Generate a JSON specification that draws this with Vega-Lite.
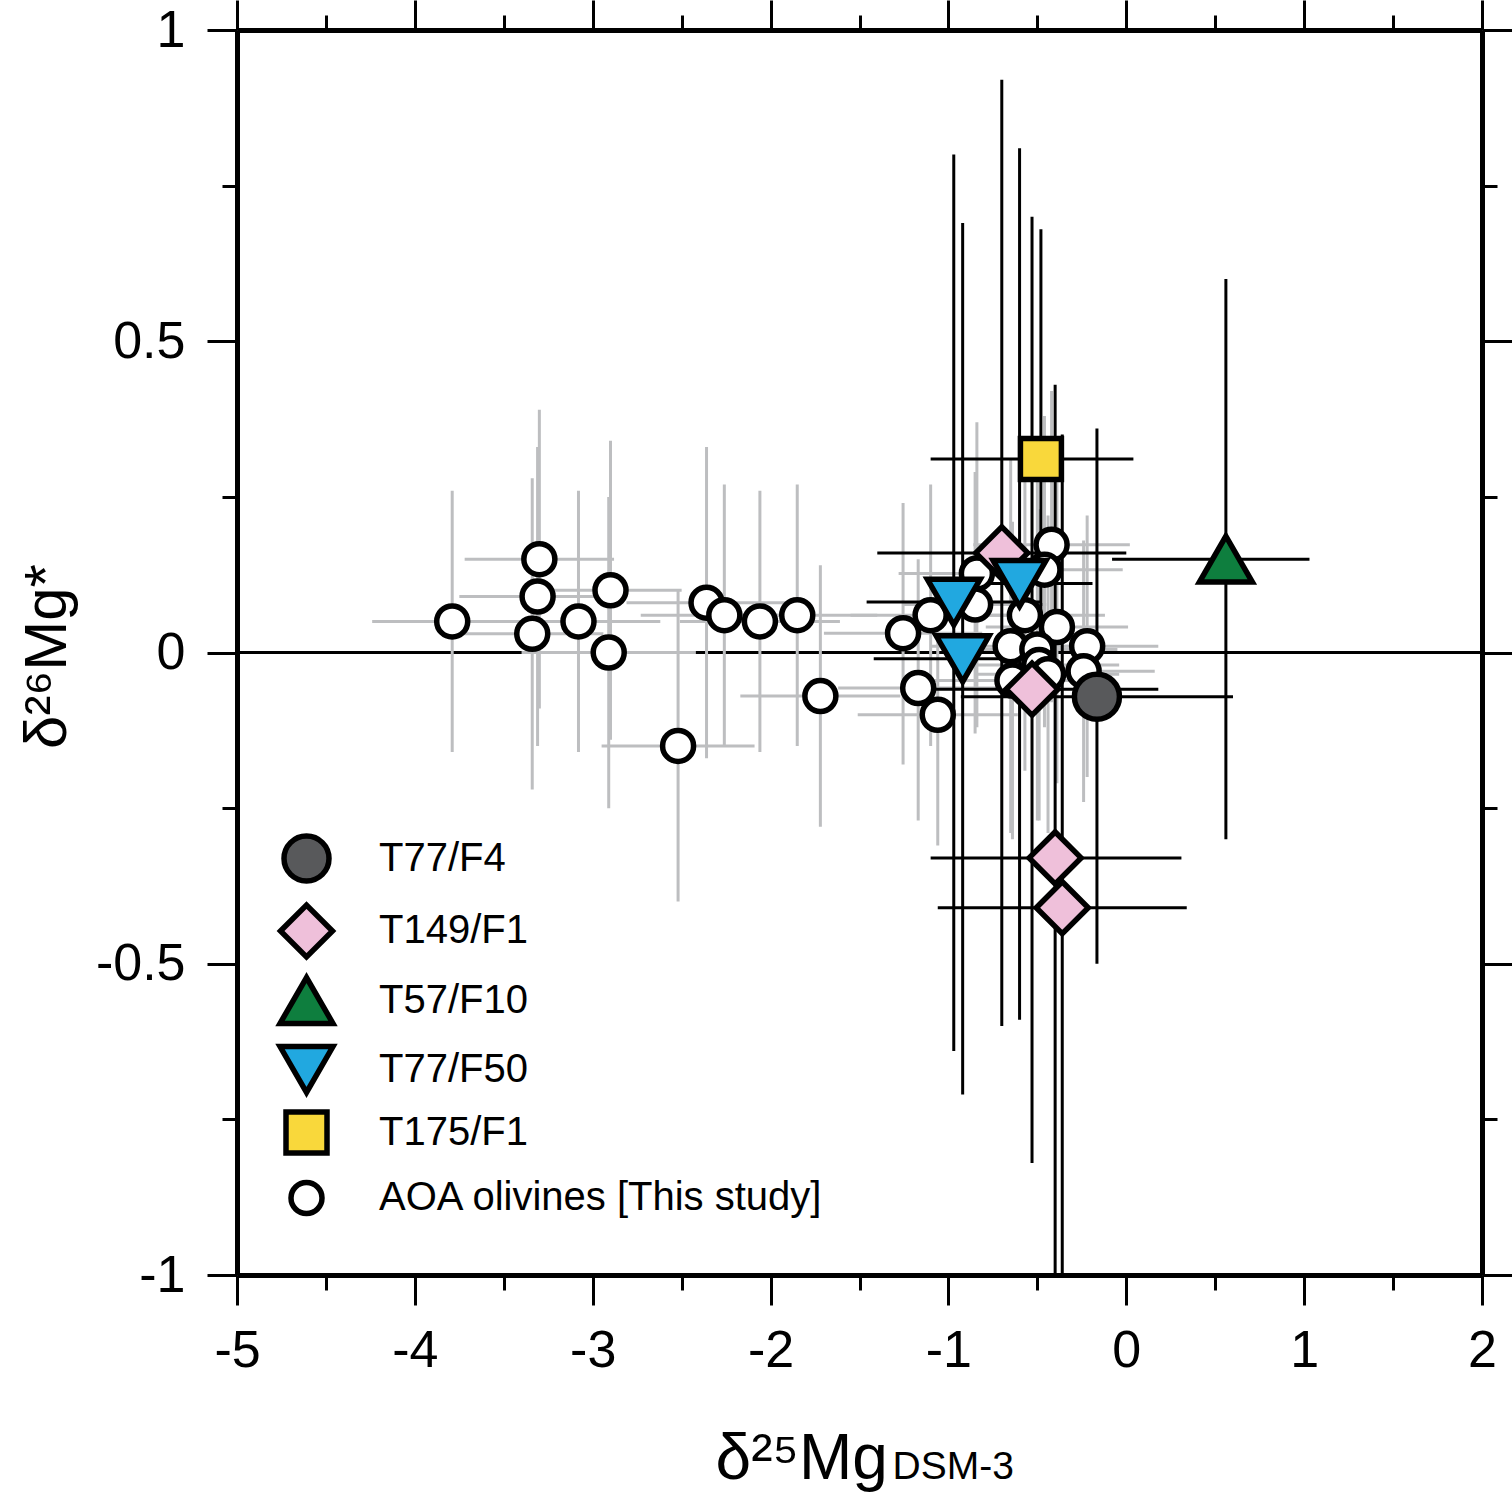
{
  "$schema": "https://vega.github.io/schema/vega-lite/v6.json",
  "autosize": {"type": "none"},
  "width": 1245,
  "height": 1245,
  "padding": {"left": 237, "top": 30, "right": 30, "bottom": 225},
  "background": "white",
  "config": {"view": {"stroke": null}, "axis": {"grid": false}, "font": "Liberation Sans"},
  "data": {"values": [
    {"g": "AOA olivines [This study]", "x": -3.79, "y": 0.05, "xlo": -4.24, "xhi": -3.34, "ylo": -0.16, "yhi": 0.26},
    {"g": "AOA olivines [This study]", "x": -3.30, "y": 0.15, "xlo": -3.72, "xhi": -2.88, "ylo": -0.09, "yhi": 0.39},
    {"g": "AOA olivines [This study]", "x": -3.31, "y": 0.09, "xlo": -3.75, "xhi": -2.87, "ylo": -0.15, "yhi": 0.33},
    {"g": "AOA olivines [This study]", "x": -3.34, "y": 0.03, "xlo": -3.74, "xhi": -2.94, "ylo": -0.22, "yhi": 0.28},
    {"g": "AOA olivines [This study]", "x": -3.08, "y": 0.05, "xlo": -3.54, "xhi": -2.62, "ylo": -0.16, "yhi": 0.26},
    {"g": "AOA olivines [This study]", "x": -2.90, "y": 0.10, "xlo": -3.30, "xhi": -2.50, "ylo": -0.14, "yhi": 0.34},
    {"g": "AOA olivines [This study]", "x": -2.91, "y": 0.00, "xlo": -3.40, "xhi": -2.42, "ylo": -0.25, "yhi": 0.25},
    {"g": "AOA olivines [This study]", "x": -2.52, "y": -0.15, "xlo": -2.95, "xhi": -2.09, "ylo": -0.40, "yhi": 0.10},
    {"g": "AOA olivines [This study]", "x": -2.36, "y": 0.08, "xlo": -2.81, "xhi": -1.91, "ylo": -0.17, "yhi": 0.33},
    {"g": "AOA olivines [This study]", "x": -2.26, "y": 0.06, "xlo": -2.73, "xhi": -1.79, "ylo": -0.15, "yhi": 0.27},
    {"g": "AOA olivines [This study]", "x": -2.06, "y": 0.05, "xlo": -2.51, "xhi": -1.61, "ylo": -0.16, "yhi": 0.26},
    {"g": "AOA olivines [This study]", "x": -1.85, "y": 0.06, "xlo": -2.30, "xhi": -1.40, "ylo": -0.15, "yhi": 0.27},
    {"g": "AOA olivines [This study]", "x": -1.72, "y": -0.07, "xlo": -2.17, "xhi": -1.27, "ylo": -0.28, "yhi": 0.14},
    {"g": "AOA olivines [This study]", "x": -0.42, "y": 0.173, "xlo": -0.86, "xhi": 0.02, "ylo": -0.08, "yhi": 0.42},
    {"g": "AOA olivines [This study]", "x": -0.46, "y": 0.133, "xlo": -0.90, "xhi": -0.02, "ylo": -0.12, "yhi": 0.38},
    {"g": "AOA olivines [This study]", "x": -0.84, "y": 0.127, "xlo": -1.28, "xhi": -0.40, "ylo": -0.12, "yhi": 0.37},
    {"g": "AOA olivines [This study]", "x": -0.85, "y": 0.077, "xlo": -1.25, "xhi": -0.45, "ylo": -0.13, "yhi": 0.29},
    {"g": "AOA olivines [This study]", "x": -1.10, "y": 0.06, "xlo": -1.55, "xhi": -0.65, "ylo": -0.15, "yhi": 0.27},
    {"g": "AOA olivines [This study]", "x": -1.255, "y": 0.031, "xlo": -1.70, "xhi": -0.81, "ylo": -0.18, "yhi": 0.24},
    {"g": "AOA olivines [This study]", "x": -0.57, "y": 0.06, "xlo": -1.02, "xhi": -0.12, "ylo": -0.19, "yhi": 0.31},
    {"g": "AOA olivines [This study]", "x": -0.39, "y": 0.041, "xlo": -0.79, "xhi": 0.01, "ylo": -0.21, "yhi": 0.29},
    {"g": "AOA olivines [This study]", "x": -0.22, "y": 0.01, "xlo": -0.62, "xhi": 0.18, "ylo": -0.20, "yhi": 0.22},
    {"g": "AOA olivines [This study]", "x": -0.65, "y": 0.01, "xlo": -1.10, "xhi": -0.20, "ylo": -0.29, "yhi": 0.31},
    {"g": "AOA olivines [This study]", "x": -0.50, "y": 0.005, "xlo": -0.95, "xhi": -0.05, "ylo": -0.27, "yhi": 0.28},
    {"g": "AOA olivines [This study]", "x": -0.64, "y": -0.045, "xlo": -1.09, "xhi": -0.19, "ylo": -0.30, "yhi": 0.21},
    {"g": "AOA olivines [This study]", "x": -0.24, "y": -0.03, "xlo": -0.64, "xhi": 0.16, "ylo": -0.24, "yhi": 0.18},
    {"g": "AOA olivines [This study]", "x": -1.17, "y": -0.057, "xlo": -1.62, "xhi": -0.72, "ylo": -0.27, "yhi": 0.15},
    {"g": "AOA olivines [This study]", "x": -1.06, "y": -0.10, "xlo": -1.51, "xhi": -0.61, "ylo": -0.31, "yhi": 0.11},
    {"g": "AOA olivines [This study]", "x": -0.49, "y": -0.02, "xlo": -0.94, "xhi": -0.04, "ylo": -0.27, "yhi": 0.23},
    {"g": "AOA olivines [This study]", "x": -0.44, "y": -0.035, "xlo": -0.84, "xhi": -0.04, "ylo": -0.29, "yhi": 0.22},
    {"g": "T149/F1", "x": -0.70, "y": 0.16, "xlo": -1.40, "xhi": 0.00, "ylo": -0.60, "yhi": 0.92},
    {"g": "T149/F1", "x": -0.53, "y": -0.059, "xlo": -1.24, "xhi": 0.18, "ylo": -0.82, "yhi": 0.70},
    {"g": "T149/F1", "x": -0.40, "y": -0.33, "xlo": -1.10, "xhi": 0.31, "ylo": -1.09, "yhi": 0.43},
    {"g": "T149/F1", "x": -0.36, "y": -0.41, "xlo": -1.06, "xhi": 0.34, "ylo": -1.17, "yhi": 0.35},
    {"g": "T77/F50", "x": -0.97, "y": 0.081, "xlo": -1.46, "xhi": -0.48, "ylo": -0.64, "yhi": 0.80},
    {"g": "T77/F50", "x": -0.60, "y": 0.111, "xlo": -1.01, "xhi": -0.19, "ylo": -0.59, "yhi": 0.81},
    {"g": "T77/F50", "x": -0.92, "y": -0.01, "xlo": -1.42, "xhi": -0.42, "ylo": -0.71, "yhi": 0.69},
    {"g": "T57/F10", "x": 0.56, "y": 0.15, "xlo": -0.08, "xhi": 1.03, "ylo": -0.30, "yhi": 0.60},
    {"g": "T175/F1", "x": -0.48, "y": 0.311, "xlo": -1.10, "xhi": 0.04, "ylo": -0.06, "yhi": 0.68},
    {"g": "T77/F4", "x": -0.165, "y": -0.071, "xlo": -0.93, "xhi": 0.60, "ylo": -0.50, "yhi": 0.36}
  ]},
  "resolve": {"axis": {"x": "independent", "y": "independent"}},
  "layer": [
    {
      "mark": {"type": "rule", "color": "black", "strokeWidth": 2.5},
      "encoding": {
        "y": {"datum": 0, "type": "quantitative", "scale": {"domain": [-1, 1], "nice": false, "zero": false}, "axis": null}
      }
    },
    {
      "transform": [{"filter": "datum.g === 'AOA olivines [This study]'"}],
      "mark": {"type": "rule", "color": "#bdbec0", "strokeWidth": 3, "clip": true},
      "encoding": {
        "x": {"field": "xlo", "type": "quantitative", "scale": {"domain": [-5, 2], "nice": false, "zero": false},
          "axis": {"orient": "bottom", "values": [-5, -4, -3, -2, -1, 0, 1, 2], "tickSize": 30, "tickWidth": 3, "tickColor": "black",
            "domain": true, "domainWidth": 5, "domainColor": "black", "labelFontSize": 52, "labelFont": "Liberation Sans", "labelColor": "black",
            "labelPadding": 20, "labelExpr": "'' + datum.value", "labelFlush": false, "labelOverlap": false,
            "title": "δ²⁵Mg", "titleFontSize": 64, "titleFontWeight": "normal", "titleFont": "Liberation Sans", "titleColor": "black",
            "titleX": 478, "titleY": 203, "titleAlign": "left", "titleBaseline": "alphabetic"}},
        "x2": {"field": "xhi"},
        "y": {"field": "y", "type": "quantitative", "scale": {"domain": [-1, 1], "nice": false, "zero": false},
          "axis": {"orient": "left", "values": [-1, -0.5, 0, 0.5, 1], "tickSize": 30, "tickWidth": 3, "tickColor": "black",
            "domain": true, "domainWidth": 5, "domainColor": "black", "labelFontSize": 52, "labelFont": "Liberation Sans", "labelColor": "black",
            "labelPadding": 22, "labelExpr": "'' + datum.value", "labelFlush": false, "labelOverlap": false, "labelBaseline": "middle",
            "title": "δ²⁶Mg*", "titleFontSize": 60, "titleFontWeight": "normal", "titleFont": "Liberation Sans", "titleColor": "black",
            "titleAngle": -90, "titleX": -172, "titleY": 626, "titleAlign": "center", "titleBaseline": "alphabetic"}}
      }
    },
    {
      "transform": [{"filter": "datum.g === 'AOA olivines [This study]'"}],
      "mark": {"type": "rule", "color": "#bdbec0", "strokeWidth": 3, "clip": true},
      "encoding": {
        "x": {"field": "x", "type": "quantitative",
          "axis": {"orient": "bottom", "values": [-4.5, -3.5, -2.5, -1.5, -0.5, 0.5, 1.5], "tickSize": 15, "tickWidth": 3, "tickColor": "black",
            "domain": false, "labels": false, "title": null}},
        "y": {"field": "ylo", "type": "quantitative",
          "axis": {"orient": "left", "values": [-0.75, -0.25, 0.25, 0.75], "tickSize": 15, "tickWidth": 3, "tickColor": "black",
            "domain": false, "labels": false, "title": null}},
        "y2": {"field": "yhi"}
      }
    },
    {
      "transform": [{"filter": "datum.g !== 'AOA olivines [This study]'"}],
      "mark": {"type": "rule", "color": "black", "strokeWidth": 3, "clip": true},
      "encoding": {
        "x": {"field": "xlo", "type": "quantitative",
          "axis": {"orient": "top", "values": [-5, -4, -3, -2, -1, 0, 1, 2], "tickSize": 30, "tickWidth": 3, "tickColor": "black",
            "domain": true, "domainWidth": 5, "domainColor": "black", "labels": false,
            "title": "DSM-3", "titleFontSize": 39, "titleFontWeight": "normal", "titleFont": "Liberation Sans", "titleColor": "black",
            "titleX": 655, "titleY": 1448, "titleAlign": "left", "titleBaseline": "alphabetic"}},
        "x2": {"field": "xhi"},
        "y": {"field": "y", "type": "quantitative",
          "axis": {"orient": "right", "values": [-1, -0.5, 0, 0.5, 1], "tickSize": 30, "tickWidth": 3, "tickColor": "black",
            "domain": true, "domainWidth": 5, "domainColor": "black", "labels": false, "title": null}}
      }
    },
    {
      "transform": [{"filter": "datum.g !== 'AOA olivines [This study]'"}],
      "mark": {"type": "rule", "color": "black", "strokeWidth": 3, "clip": true},
      "encoding": {
        "x": {"field": "x", "type": "quantitative",
          "axis": {"orient": "top", "values": [-4.5, -3.5, -2.5, -1.5, -0.5, 0.5, 1.5], "tickSize": 15, "tickWidth": 3, "tickColor": "black",
            "domain": false, "labels": false, "title": null}},
        "y": {"field": "ylo", "type": "quantitative",
          "axis": {"orient": "right", "values": [-0.75, -0.25, 0.25, 0.75], "tickSize": 15, "tickWidth": 3, "tickColor": "black",
            "domain": false, "labels": false, "title": null}},
        "y2": {"field": "yhi"}
      }
    },
    {
      "mark": {"type": "point", "filled": true, "stroke": "black", "strokeWidth": 5.5, "opacity": 1, "fillOpacity": 1, "strokeOpacity": 1},
      "encoding": {
        "x": {"field": "x", "type": "quantitative", "axis": null},
        "y": {"field": "y", "type": "quantitative", "axis": null},
        "shape": {"field": "g", "type": "nominal",
          "scale": {"domain": ["T77/F4", "T149/F1", "T57/F10", "T77/F50", "T175/F1", "AOA olivines [This study]"],
            "range": ["circle", "diamond", "triangle-up", "triangle-down", "square", "circle"]},
          "legend": {"orient": "none", "legendX": 40, "legendY": 803, "title": null, "padding": 0, "gridAlign": "all",
            "labelFontSize": 40, "labelFont": "Liberation Sans", "labelColor": "black", "labelOffset": 43, "labelLimit": 0,
            "rowPadding": -5, "symbolStrokeColor": "black", "symbolStrokeWidth": 5.5, "symbolOpacity": 1}},
        "fill": {"field": "g", "type": "nominal",
          "scale": {"domain": ["T77/F4", "T149/F1", "T57/F10", "T77/F50", "T175/F1", "AOA olivines [This study]"],
            "range": ["#58595b", "#efc0da", "#0e7e3e", "#21a8e0", "#f9d83b", "#ffffff"]}},
        "size": {"field": "g", "type": "nominal",
          "scale": {"type": "ordinal", "domain": ["T77/F4", "T149/F1", "T57/F10", "T77/F50", "T175/F1", "AOA olivines [This study]"],
            "range": [2025, 2700, 2800, 2800, 1681, 961]}}
      }
    }
  ]
}
